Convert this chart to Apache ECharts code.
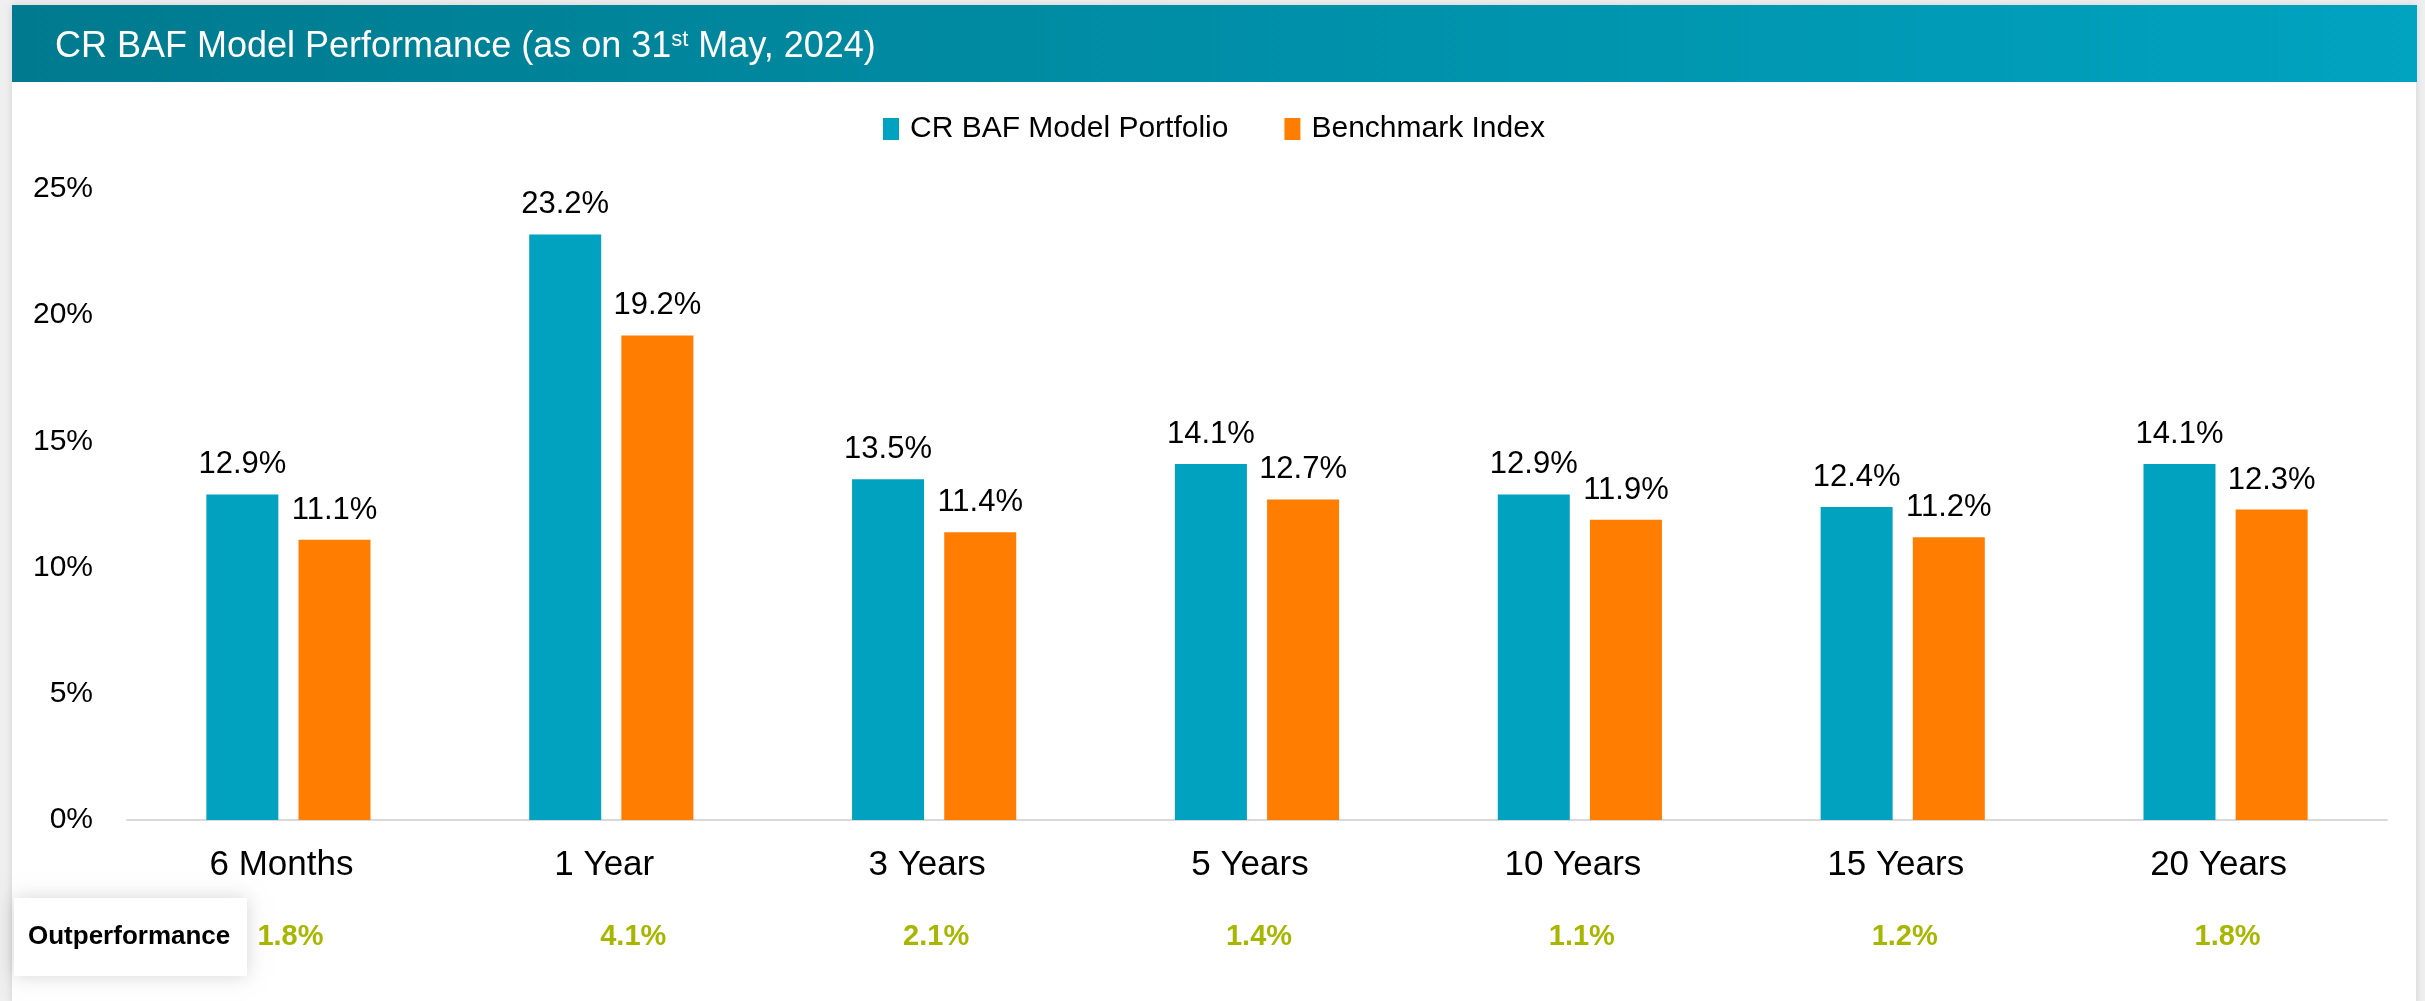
<!DOCTYPE html>
<html>
<head>
<meta charset="utf-8">
<script src="https://cdn.jsdelivr.net/npm/echarts/dist/echarts.min.js"></script>
<style>
  html, body { margin: 0; padding: 0; background: #efefef; }
  #chart { width: 2425px; height: 1001px; }
</style>
</head>
<body>
<div id="chart"></div>
<script>
const categories = ['6 Months', '1 Year', '3 Years', '5 Years', '10 Years', '15 Years', '20 Years'];
const portfolio = [12.9, 23.2, 13.5, 14.1, 12.9, 12.4, 14.1];
const benchmark = [11.1, 19.2, 11.4, 12.7, 11.9, 11.2, 12.3];
const outperformance = [1.8, 4.1, 2.1, 1.4, 1.1, 1.2, 1.8];
const seriesNames = ['CR BAF Model Portfolio', 'Benchmark Index'];
const yMin = 0, yMax = 25, yStep = 5;

const FONT = "'Liberation Sans Narrow', 'Liberation Sans', sans-serif";
const TEAL = '#00A2BF';
const ORANGE = '#FF7D00';
const GREEN = '#A7B700';

const chart = echarts.init(document.getElementById('chart'), null, { renderer: 'canvas' });

const option = {
  backgroundColor: '#efefef',
  animation: false,
  textStyle: { fontFamily: FONT },
  graphic: [
    { type: 'rect', z: -10, shape: { x: 12, y: 5, width: 2404, height: 1000 },
      style: { fill: '#ffffff', shadowBlur: 8, shadowColor: 'rgba(0,0,0,0.12)' } },
    { type: 'rect', z: -5, shape: { x: 12, y: 5, width: 2405, height: 77 },
      style: { fill: new echarts.graphic.LinearGradient(0, 0, 1, 0, [
        { offset: 0, color: '#007A8E' }, { offset: 1, color: '#00A3C0' }]) } },
    { type: 'rect', z: 5, shape: { x: 14, y: 898, width: 233, height: 78 },
      style: { fill: '#ffffff', shadowBlur: 18, shadowColor: 'rgba(0,0,0,0.16)' } },
    { type: 'text', z: 6, left: 28, top: 924,
      style: { text: 'Outperformance', fontFamily: FONT, fontWeight: 'bold', fontSize: 26, fill: '#000000' } }
  ],
  title: {
    left: 50, top: 21,
    text: '{a|CR BAF Model Performance (as on 31}{s|st}{a| May, 2024)}',
    textStyle: {
      fontWeight: 'normal',
      rich: {
        a: { fontFamily: FONT, fontSize: 36, fontWeight: 'normal', color: '#ffffff', lineHeight: 42 },
        s: { fontFamily: FONT, fontSize: 22, fontWeight: 'normal', color: '#ffffff', lineHeight: 42, padding: [0, 0, 14, 0] }
      }
    }
  },
  legend: {
    left: 878, top: 109,
    itemWidth: 16, itemHeight: 22, itemGap: 56,
    icon: 'rect',
    data: seriesNames,
    textStyle: { fontFamily: FONT, fontSize: 30, color: '#000000', padding: [0, 0, 0, 6] }
  },
  grid: { left: 127, right: 38, top: 189, bottom: 181, containLabel: false },
  xAxis: [
    {
      type: 'category', data: categories,
      axisLine: { show: true, lineStyle: { color: '#D9D9D9', width: 2 } },
      axisTick: { show: false },
      axisLabel: { fontFamily: FONT, fontSize: 35, color: '#000000', margin: 28, padding: [0, 14, 0, 0] }
    },
    {
      type: 'category', position: 'bottom', offset: 0,
      data: outperformance.map(v => v.toFixed(1) + '%'),
      axisLine: { show: false }, axisTick: { show: false },
      axisLabel: {
        fontFamily: FONT, fontSize: 29, fontWeight: 'bold', color: GREEN, margin: 102, padding: [0, 0, 0, 4],
        formatter: (v, i) => i === 1 ? '{s|' + v + '}' : v,
        rich: { s: { fontFamily: FONT, fontSize: 29, fontWeight: 'bold', color: GREEN, padding: [0, 0, 0, 40] } }
      }
    }
  ],
  yAxis: {
    type: 'value', min: yMin, max: yMax, interval: yStep,
    axisLine: { show: false }, axisTick: { show: false },
    splitLine: { show: false },
    axisLabel: { fontFamily: FONT, fontSize: 30, color: '#000000', margin: 34, formatter: '{value}%' }
  },
  series: [
    {
      name: seriesNames[0], type: 'bar', data: portfolio, xAxisIndex: 0,
      barWidth: 72, barGap: '28%',
      itemStyle: { color: TEAL },
      label: { show: true, position: 'top', distance: 14, fontFamily: FONT, fontSize: 31, color: '#000000',
               formatter: p => p.value.toFixed(1) + '%' }
    },
    {
      name: seriesNames[1], type: 'bar', data: benchmark, xAxisIndex: 0,
      barWidth: 72, barGap: '28%',
      itemStyle: { color: ORANGE },
      label: { show: true, position: 'top', distance: 14, fontFamily: FONT, fontSize: 31, color: '#000000',
               formatter: p => p.value.toFixed(1) + '%' }
    }
  ]
};
chart.setOption(option);
</script>
</body>
</html>
